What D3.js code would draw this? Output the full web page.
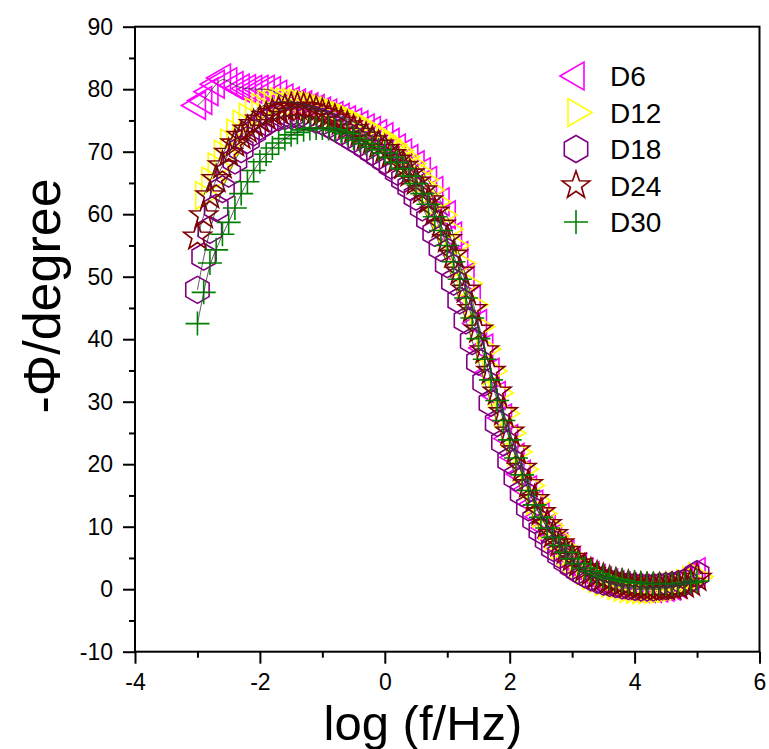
<!DOCTYPE html>
<html>
<head>
<meta charset="utf-8">
<script src="https://cdn.jsdelivr.net/npm/d3@7"></script>
<style>
  body { margin: 0; background: #fff; }
  text { font-family: Arial, "Liberation Sans", sans-serif; fill: #000; }
</style>
</head>
<body>
<svg id="bode" width="769" height="749"></svg>
<script>
// Data (log f grid, phase per sample)
let logF = [-3.0,-2.9,-2.8,-2.7,-2.6,-2.5,-2.4,-2.3,-2.2,-2.1,-2.0,-1.9,-1.8,-1.7,-1.6,-1.5,-1.4,-1.3,-1.2,-1.1,
  -1.0,-0.9,-0.8,-0.7,-0.6,-0.5,-0.4,-0.3,-0.2,-0.1,0.0,0.1,0.2,0.3,0.4,0.5,0.6,0.7,0.8,0.9,
  1.0,1.1,1.2,1.3,1.4,1.5,1.6,1.7,1.8,1.9,2.0,2.1,2.2,2.3,2.4,2.5,2.6,2.7,2.8,2.9,
  3.0,3.1,3.2,3.3,3.4,3.5,3.6,3.7,3.8,3.9,4.0,4.1,4.2,4.3,4.4,4.5,4.6,4.7,4.8,4.9,5.0];

let phaseD6 = [77.4,78.2,79.6,80.8,81.8,81.2,80.6,80.2,80.1,80.0,80.0,80.0,79.8,79.2,78.6,78.1,77.8,77.5,77.2,76.9,
  76.5,76.2,75.8,75.5,75.1,74.7,74.3,73.8,73.4,72.9,72.4,71.5,70.6,69.8,68.9,67.9,66.8,65.4,63.8,62.0,
  59.9,56.5,53.4,50.0,46.3,42.5,38.6,34.7,31.0,27.4,24.1,21.1,18.4,15.9,13.6,11.6,9.8,8.2,6.8,5.6,
  4.5,3.6,2.8,2.2,1.7,1.3,1.0,0.7,0.5,0.3,0.2,0.1,0.1,0.1,0.2,0.3,0.5,0.8,1.3,2.0,2.8];

let phaseD12 = [null,63.0,65.3,67.6,69.6,71.4,73.0,74.4,75.5,76.4,77.1,77.6,77.9,78.0,78.0,77.9,77.8,77.6,77.4,77.1,
  76.8,76.5,76.1,75.7,75.3,74.8,74.3,73.8,73.2,72.6,71.9,71.1,70.2,69.2,68.1,66.9,65.5,63.9,62.0,59.9,
  57.6,55.0,52.1,48.9,45.5,42.0,38.4,34.9,31.4,28.1,25.0,22.0,19.2,16.6,14.2,12.1,10.2,8.5,7.0,5.7,
  4.6,3.7,2.9,2.2,1.7,1.2,0.9,0.6,0.3,0.1,0.0,-0.1,-0.1,-0.1,0.0,0.1,0.3,0.5,0.9,1.4,2.0];

let phaseD18 = [47.9,53.2,57.5,61.0,64.0,66.5,68.6,70.4,71.9,73.1,74.0,74.7,75.2,75.5,75.7,75.8,75.8,75.6,75.4,75.1,
  74.8,74.3,73.8,73.2,72.6,72.0,71.4,70.7,70.0,69.3,68.6,67.8,66.8,65.6,64.4,62.8,61.1,59.2,57.0,54.6,
  52.0,49.2,46.2,43.0,39.7,36.4,33.1,29.8,26.6,23.5,20.6,17.9,15.4,13.1,11.1,9.4,7.9,6.6,5.5,4.5,
  3.7,3.0,2.4,1.9,1.5,1.2,1.0,0.8,0.6,0.5,0.4,0.3,0.3,0.3,0.4,0.5,0.6,0.8,1.1,1.6,2.4];

let phaseD24 = [56.4,59.8,63.0,65.6,67.8,69.8,71.3,72.5,73.5,74.4,75.1,75.7,76.2,76.6,76.9,77.1,77.2,77.1,76.9,76.6,
  76.2,75.8,75.3,74.8,74.2,73.6,73.0,72.4,71.8,71.1,70.4,69.6,68.7,67.7,66.5,65.2,63.8,62.2,60.4,58.3,
  56.0,53.5,50.8,47.9,44.8,41.5,38.2,34.9,31.6,28.3,25.2,22.2,19.4,16.8,14.4,12.3,10.4,8.8,7.3,6.1,
  5.0,4.1,3.3,2.7,2.2,1.8,1.4,1.1,0.9,0.7,0.5,0.4,0.3,0.3,0.3,0.3,0.4,0.5,0.7,1.0,1.8];

let phaseD30 = [42.5,47.5,52.2,54.3,56.8,58.7,61.0,63.3,65.2,67.0,68.4,69.6,70.6,71.4,72.1,72.7,73.1,73.5,73.7,73.8,
  73.8,73.7,73.5,73.2,72.9,72.2,71.8,71.3,70.8,70.3,69.8,69.1,68.3,67.3,66.1,64.9,63.3,61.6,59.6,57.4,
  55.0,52.4,49.6,46.6,43.4,40.1,36.8,33.5,30.2,27.0,23.9,21.0,18.3,15.8,13.5,11.5,9.8,8.3,7.0,5.9,
  4.9,4.1,3.4,2.9,2.5,2.1,1.8,1.6,1.4,1.2,1.1,1.0,0.9,0.9,0.8,0.8,0.8,0.9,1.0,1.1,1.3];

let seriesNames = ["D6", "D12", "D18", "D24", "D30"];
let seriesValues = [phaseD6, phaseD12, phaseD18, phaseD24, phaseD30];

let xTicks = [-4, -2, 0, 2, 4, 6];
let xMinorTicks = [-3, -1, 1, 3, 5];
let yTicks = [-10, 0, 10, 20, 30, 40, 50, 60, 70, 80, 90];
let yMinorTicks = [-5, 5, 15, 25, 35, 45, 55, 65, 75, 85];

// Styles
let seriesColors = ["#ff00ff", "#ffff00", "#800080", "#800000", "#008000"];
let seriesShapes = ["triLeft", "triRight", "hexagon", "star", "plus"];

let svg = d3.select("svg#bode");

let plotLeft = 135, plotRight = 759.5, plotTop = 26.7, plotBottom = 651.7;

const xScale = d3.scaleLinear().domain([-4, 6]).range([plotLeft, plotRight]);
const yScale = d3.scaleLinear().domain([-10, 90]).range([plotBottom, plotTop]);

// Marker shapes
function markerPath(shape) {
  if (shape == "triLeft" || shape == "triRight") {
    return d3.symbol(d3.symbolTriangle, 332)();
  }
  if (shape == "hexagon") {
    let r = 13.5;
    let pts = d3.range(6).map(k => {
      let a = (-90 + k * 60) * Math.PI / 180;
      return [r * Math.cos(a), r * Math.sin(a)];
    });
    return "M" + pts.join("L") + "Z";
  }
  if (shape == "star") {
    let pts = d3.range(10).map(k => {
      let a = (-90 + k * 36) * Math.PI / 180;
      let r = (k % 2 == 0) ? 14.5 : 5.8;
      return [r * Math.cos(a), r * Math.sin(a)];
    });
    return "M" + pts.join("L") + "Z";
  }
  return "M-12,0H12M0,-12V12";
}

function markerRotate(shape) {
  if (shape == "triLeft") return " rotate(-90)";
  if (shape == "triRight") return " rotate(90)";
  return "";
}

// Axes (ticks point outwards), plain hyphen for negatives
let plainNum = d => String(d);
let leftAxis = d3.axisLeft(yScale).tickValues(yTicks).tickSize(12).tickSizeOuter(0).tickPadding(10).tickFormat(plainNum);
let leftMinor = d3.axisLeft(yScale).tickValues(yMinorTicks).tickSize(6).tickSizeOuter(0).tickFormat("");
let bottomAxis = d3.axisBottom(xScale).tickValues(xTicks).tickSize(12).tickSizeOuter(0).tickPadding(10).tickFormat(plainNum);
let bottomMinor = d3.axisBottom(xScale).tickValues(xMinorTicks).tickSize(6).tickSizeOuter(0).tickFormat("");

[leftAxis, leftMinor].forEach(a => {
  svg.append("g")
    .attr("transform", "translate(" + plotLeft + ",0)")
    .call(a);
});
[bottomAxis, bottomMinor].forEach(a => {
  svg.append("g")
    .attr("transform", "translate(0," + plotBottom + ")")
    .call(a);
});

svg.selectAll(".domain").remove();
svg.selectAll(".tick line").attr("stroke", "#000").attr("stroke-width", 2);
svg.selectAll(".tick text")
  .attr("font-size", "23px")
  .attr("font-family", "Arial, 'Liberation Sans', sans-serif")
  .attr("fill", "#000");

// Frame
svg.append("rect")
  .attr("x", plotLeft)
  .attr("y", plotTop)
  .attr("width", plotRight - plotLeft)
  .attr("height", plotBottom - plotTop)
  .attr("fill", "none")
  .attr("stroke", "#000")
  .attr("stroke-width", 2);

// Markers
seriesValues.forEach((vals, s) => {
  let path = markerPath(seriesShapes[s]);
  let rot = markerRotate(seriesShapes[s]);
  vals.forEach((v, i) => {
    if (v == null) return;
    svg.append("path")
      .attr("d", path)
      .attr("transform", "translate(" + xScale(logF[i]) + "," + yScale(v) + ")" + rot)
      .attr("fill", "none")
      .attr("stroke", seriesColors[s])
      .attr("stroke-width", 1.6);
  });
});

// Fitted curves (thin dark lines)
let fitLine = d3.line()
  .defined(d => d[1] != null)
  .x(d => xScale(d[0]))
  .y(d => yScale(d[1]))
  .curve(d3.curveBasis);

seriesValues.forEach(vals => {
  svg.append("path")
    .attr("d", fitLine(vals.map((v, i) => [logF[i], v])))
    .attr("fill", "none")
    .attr("stroke", "#333")
    .attr("stroke-width", 0.8);
});

// Legend
let legendX = 576, legendTop = 76, legendStep = 36.5;
seriesNames.forEach((name, s) => {
  let ly = legendTop + s * legendStep;
  svg.append("path")
    .attr("d", markerPath(seriesShapes[s]))
    .attr("transform", "translate(" + legendX + "," + ly + ")" + markerRotate(seriesShapes[s]))
    .attr("fill", "none")
    .attr("stroke", seriesColors[s])
    .attr("stroke-width", 1.6);

  svg.append("text")
    .attr("x", legendX + 34)
    .attr("y", ly + 10)
    .attr("font-size", "28px")
    .text(name);
});

// Axis titles
svg.append("text")
  .attr("text-anchor", "middle")
  .attr("x", 423)
  .attr("y", 739.5)
  .attr("font-size", "49px")
  .text("log (f/Hz)");

svg.append("text")
  .attr("text-anchor", "middle")
  .attr("transform", "translate(60,296) rotate(-90)")
  .attr("font-size", "52px")
  .text("-Φ/degree");
</script>
</body>
</html>
